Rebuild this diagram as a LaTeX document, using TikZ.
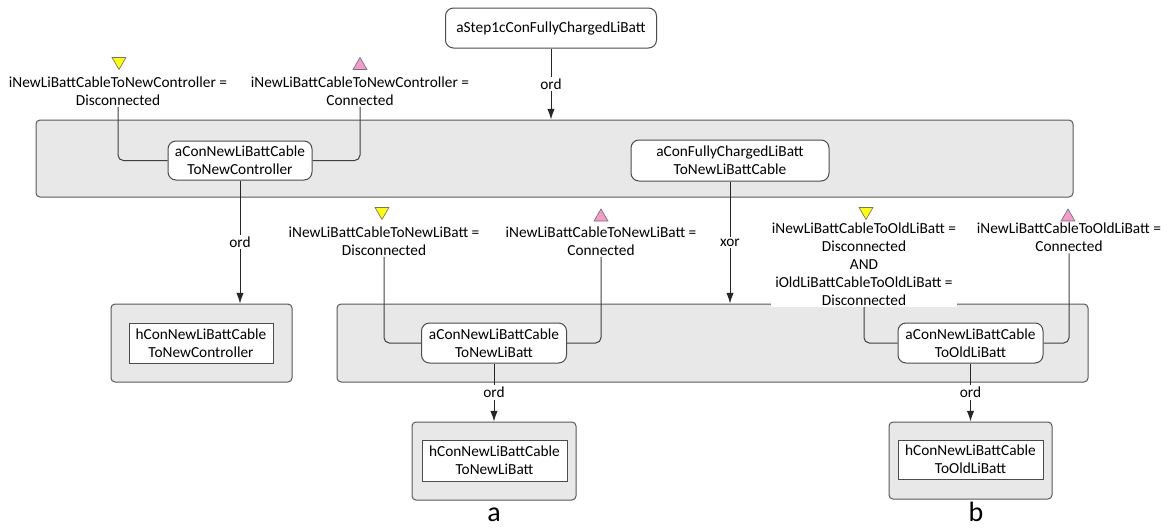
\documentclass[tikz,border=0pt]{standalone}
\usepackage{fontspec}
\setmainfont{Carlito}
\usetikzlibrary{shapes.geometric,fit,arrows.meta,calc}
\definecolor{trigyellow}{HTML}{FFFF00}
\definecolor{trigpink}{HTML}{F79ACB}
\definecolor{boxgray}{HTML}{E8E8E8}
\begin{document}
\begin{tikzpicture}[x=0.75pt,y=-0.75pt,
  every node/.style={font=\fontsize{11.5}{13.5}\selectfont},
  cont/.style={draw=black!65, fill=boxgray, rounded corners=3pt, inner sep=0pt, line width=0.75pt},
  act/.style={draw=black!70, fill=white, rounded corners=6pt, align=center, inner sep=0pt, line width=0.75pt},
  hst/.style={draw=black!70, fill=white, align=center, inner sep=0pt, line width=0.75pt},
  cond/.style={fill=white, align=center, inner sep=1pt},
  link/.style={draw=black!75, line width=0.75pt, rounded corners=4pt},
  arr/.style={draw=black!85, line width=0.75pt, -{Latex[length=8pt,width=5.5pt]}},
  op/.style={fill=white, inner sep=1.5pt},
  tdown/.style={regular polygon, regular polygon sides=3, shape border rotate=180,
    draw=black!55, fill=trigyellow, minimum size=12pt, inner sep=0pt, line width=0.5pt},
  tup/.style={regular polygon, regular polygon sides=3,
    draw=black!55, fill=trigpink, minimum size=12pt, inner sep=0pt, line width=0.5pt},
  caption/.style={font=\fontsize{21}{24}\selectfont, anchor=base, inner sep=0pt}
]
\useasboundingbox (0,0) rectangle (1168,529);

% containers
\node[cont, fit={(36,120) (1073,197)}] (C1) {};
\node[cont, fit={(337,304) (1088,382)}] (C2) {};
\node[cont, fit={(111,304) (292,382)}] (H1) {};
\node[cont, fit={(412,422) (576,500)}] (H2) {};
\node[cont, fit={(889,422) (1052,499)}] (H3) {};

% activities
\node[act, minimum width=158.25pt, minimum height=30pt] (top) at (551,28) {aStep1cConFullyChargedLiBatt};
\node[act, minimum width=108pt, minimum height=29.25pt] (a1) at (240,160.5) {aConNewLiBattCable\\ToNewController};
\node[act, minimum width=148.5pt, minimum height=30.75pt] (a2) at (730,160.5) {aConFullyChargedLiBatt\\ToNewLiBattCable};
\node[act, minimum width=108.75pt, minimum height=30pt] (a3) at (494,343) {aConNewLiBattCable\\ToNewLiBatt};
\node[act, minimum width=108.75pt, minimum height=30pt] (a4) at (970.5,343) {aConNewLiBattCable\\ToOldLiBatt};

% states
\node[hst, minimum width=108pt, minimum height=30pt] (R1) at (201,343) {hConNewLiBattCable\\ToNewController};
\node[hst, minimum width=108.75pt, minimum height=30.75pt] (R2) at (494.5,460.5) {hConNewLiBattCable\\ToNewLiBatt};
\node[hst, minimum width=108.75pt, minimum height=29.25pt] (R3) at (970.5,459.5) {hConNewLiBattCable\\ToOldLiBatt};

% conditions
\node[cond] (L1) at (118,91) {iNewLiBattCableToNewController =\\Disconnected};
\node[cond] (L2) at (360,91) {iNewLiBattCableToNewController =\\Connected};
\node[cond] (L3) at (384,241) {iNewLiBattCableToNewLiBatt =\\Disconnected};
\node[cond] (L4) at (601,241) {iNewLiBattCableToNewLiBatt =\\Connected};
\node[cond] (L5) at (864,264) {iNewLiBattCableToOldLiBatt =\\Disconnected\\AND\\iOldLiBattCableToOldLiBatt =\\Disconnected};
\node[cond] (L6) at (1069,237.5) {iNewLiBattCableToOldLiBatt =\\Connected};

\node[tdown] (T1) at (119,61.5) {};
\node[tup]   (T2) at (360,65.5) {};
\node[tdown] (T3) at (382,211.5) {};
\node[tup]   (T4) at (601,217) {};
\node[tdown] (T5) at (866,211.5) {};
\node[tup]   (T6) at (1068,217) {};

% condition links
\draw[link] (a1.west) -| (L1.south);
\draw[link] (a1.east) -| (L2.south);
\draw[link] (a3.west) -| (L3.south);
\draw[link] (a3.east) -| (L4.south);
\draw[link] (a4.west) -| (L5.south);
\draw[link] (a4.east) -| (L6.south);

% decomposition arrows
\draw[arr] (top.south) -- (top.south |- C1.north) node[op, midway] {ord};
\draw[arr] (a1.south) -- (a1.south |- H1.north) node[op, midway] {ord};
\draw[arr] (a2.south) -- (a2.south |- C2.north) node[op, midway] {xor};
\draw[arr] (a3.south) -- (a3.south |- H2.north) node[op, midway] {ord};
\draw[arr] (a4.south) -- (a4.south |- H3.north) node[op, midway] {ord};

% captions
\node[caption] (capA) at (494,521) {a};
\node[caption] (capB) at (976,521) {b};
\end{tikzpicture}
\end{document}
